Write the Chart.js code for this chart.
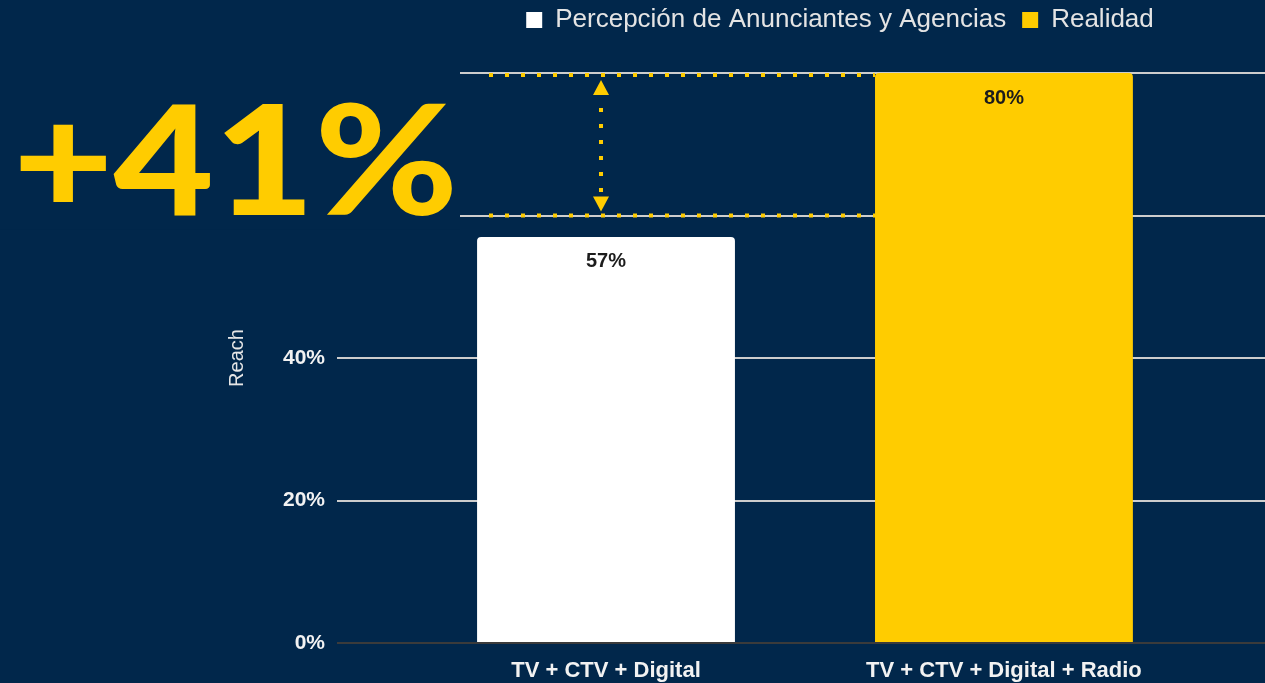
<!DOCTYPE html>
<html>
<head>
<meta charset="utf-8">
<script src="https://cdn.jsdelivr.net/npm/chart.js@4.4.1/dist/chart.umd.min.js"></script>
<style>
  html, body { margin: 0; padding: 0; background: #01274b; }
</style>
</head>
<body>
<canvas id="reachChart" width="1265" height="683"></canvas>
<script>
const categories = ["TV + CTV + Digital", "TV + CTV + Digital + Radio"];
const seriesNames = ["Percepción de Anunciantes y Agencias", "Realidad"];
const perception = [57, null];
const reality = [null, 80];
const yTicks = [0, 20, 40, 60, 80];
const upliftText = "+41%";
const upliftFrom = 60;
const upliftTo = 80;

const BG = "#01274b";
const YELLOW = "#ffcc00";
const FONT = "'Liberation Sans', Arial, sans-serif";

const toPoints = (arr) =>
  arr.map((v, i) => (v === null ? null : { x: i, y: v })).filter((p) => p);

// paint the dark navy background
const background = {
  id: "background",
  beforeDraw(chart) {
    const ctx = chart.ctx;
    ctx.save();
    ctx.fillStyle = BG;
    ctx.fillRect(0, 0, chart.width, chart.height);
    ctx.restore();
  },
};

// give the legend more room and nudge it into place
const legendSpace = {
  id: "legendSpace",
  beforeInit(chart) {
    const fit = chart.legend.fit;
    chart.legend.fit = function () {
      fit.call(this);
      this.height = 73;
    };
  },
  afterLayout(chart) {
    chart.legend.left += 39;
    chart.legend.right += 39;
    chart.legend.top -= 9;
  },
};

// value labels inside the top of the bars
const barLabels = {
  id: "barLabels",
  afterDatasetsDraw(chart) {
    const ctx = chart.ctx;
    ctx.save();
    ctx.font = "bold 20px " + FONT;
    ctx.fillStyle = "#1c1c1c";
    ctx.textAlign = "center";
    ctx.textBaseline = "middle";
    chart.data.datasets.forEach((ds, di) => {
      chart.getDatasetMeta(di).data.forEach((el, i) => {
        const v = ds.data[i].y;
        ctx.fillText(v + "%", el.x, el.y + 25);
      });
    });
    ctx.restore();
  },
};

// "+41%" callout with dotted guides and double arrow
const uplift = {
  id: "uplift",
  afterDraw(chart) {
    const { ctx } = chart;
    const y = chart.scales.y;
    const yTop = y.getPixelForValue(upliftTo);
    const yBot = y.getPixelForValue(upliftFrom);
    const lowBar = chart.getDatasetMeta(0).data[0];
    const highBar = chart.getDatasetMeta(1).data[0];
    const highLeft = highBar.x - highBar.width / 2;
    const arrowX = lowBar.x - 5;

    ctx.save();
    // block out the left part of the top rows
    ctx.fillStyle = BG;
    ctx.fillRect(0, yTop - 20, 460, yBot - yTop + 34);

    // dotted horizontal guides
    ctx.strokeStyle = YELLOW;
    ctx.lineWidth = 4;
    ctx.setLineDash([4, 12]);
    ctx.beginPath();
    ctx.moveTo(489, yTop + 2);
    ctx.lineTo(highLeft, yTop + 2);
    ctx.moveTo(489, yBot);
    ctx.lineTo(highLeft, yBot);
    ctx.stroke();

    // dotted vertical shaft
    ctx.beginPath();
    ctx.moveTo(arrowX, yTop + 35);
    ctx.lineTo(arrowX, yBot - 20);
    ctx.stroke();
    ctx.setLineDash([]);

    // arrow heads
    ctx.fillStyle = YELLOW;
    ctx.beginPath();
    ctx.moveTo(arrowX, yTop + 7);
    ctx.lineTo(arrowX - 8, yTop + 22);
    ctx.lineTo(arrowX + 8, yTop + 22);
    ctx.closePath();
    ctx.fill();
    ctx.beginPath();
    ctx.moveTo(arrowX, yBot - 4);
    ctx.lineTo(arrowX - 8, yBot - 19);
    ctx.lineTo(arrowX + 8, yBot - 19);
    ctx.closePath();
    ctx.fill();

    // big number
    ctx.font = "900 152px Lato, Inter, " + FONT;
    ctx.textBaseline = "alphabetic";
    ctx.textAlign = "left";
    const w = ctx.measureText(upliftText).width;
    ctx.translate(13, yBot - 1);
    ctx.scale(445 / w, 1);
    ctx.fillText(upliftText, 0, 0);
    ctx.restore();
  },
};

const reachChart = new Chart(document.getElementById("reachChart"), {
  type: "bar",
  data: {
    datasets: [
      {
        label: seriesNames[0],
        data: toPoints(perception),
        backgroundColor: "#ffffff",
        borderWidth: 0,
        borderRadius: { topLeft: 4, topRight: 4 },
        grouped: false,
        categoryPercentage: 0.8,
        barPercentage: 0.81,
      },
      {
        label: seriesNames[1],
        data: toPoints(reality),
        backgroundColor: YELLOW,
        borderWidth: 0,
        borderRadius: { topLeft: 4, topRight: 4 },
        grouped: false,
        categoryPercentage: 0.8,
        barPercentage: 0.81,
      },
    ],
  },
  options: {
    responsive: false,
    animation: false,
    layout: { padding: { left: 225, right: 0, top: 0, bottom: 0 } },
    plugins: {
      legend: {
        position: "top",
        fullSize: false,
        labels: {
          color: "#e4e4e4",
          font: { family: FONT, size: 26 },
          boxWidth: 16,
          boxHeight: 16,
          padding: 16,
        },
      },
      tooltip: { enabled: false },
    },
    scales: {
      x: {
        type: "linear",
        offset: false,
        min: -0.676,
        max: 1.656,
        afterBuildTicks: (s) => {
          s.ticks = categories.map((c, i) => ({ value: i }));
        },
        afterFit: (s) => {
          s.height = 40;
        },
        grid: { display: false, offset: false },
        border: { display: false },
        ticks: {
          color: "#f2f2f2",
          font: { family: FONT, size: 22, weight: "bold" },
          padding: 7,
          autoSkip: false,
          maxRotation: 0,
          callback: (v) => categories[v],
        },
      },
      y: {
        min: 0,
        max: 80,
        afterBuildTicks: (s) => {
          s.ticks = yTicks.map((v) => ({ value: v }));
        },
        afterFit: (s) => {
          s.width = 112;
        },
        grid: {
          color: (c) => (c.tick && c.tick.value === 0 ? "#3b3b3b" : "#cdcdcd"),
          lineWidth: 2,
          drawTicks: false,
        },
        border: { display: false },
        ticks: {
          color: "#f2f2f2",
          font: { family: FONT, size: 21, weight: "bold" },
          padding: 12,
          callback: (v) => v + "%",
        },
        title: {
          display: true,
          text: "Reach",
          color: "#e6e6e6",
          font: { family: FONT, size: 20 },
          padding: 0,
        },
      },
    },
  },
  plugins: [background, legendSpace, barLabels, uplift],
});
</script>
</body>
</html>
